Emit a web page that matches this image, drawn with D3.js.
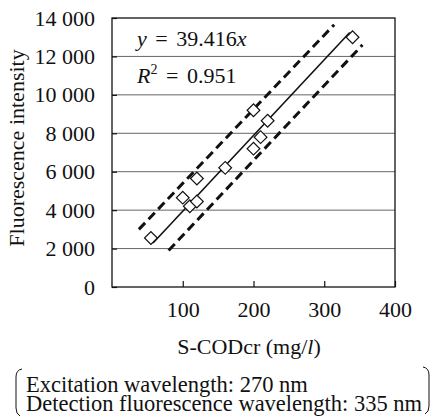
<!DOCTYPE html>
<html>
<head>
<meta charset="utf-8">
<script src="https://cdn.jsdelivr.net/npm/d3@7"></script>
<style>
  body { margin: 0; background: #fff; }
</style>
</head>
<body>
<svg id="chart" width="433" height="416"></svg>
<script>
// data
let codValues = [55, 100, 110, 120, 120, 160, 200, 210, 200, 220, 340];
let fluorValues = [2550, 4650, 4200, 4450, 5650, 6200, 7200, 7800, 9200, 8650, 13000];
let slope = 39.416;
let fitRange = [58, 336];
let upperBand = [[38, 3000], [314, 13650]];
let lowerBand = [[80, 1900], [354, 12600]];
let xTicks = [100, 200, 300, 400];
let yTicks = [0, 2000, 4000, 6000, 8000, 10000, 12000, 14000];

const FONT = 'Liberation Serif';
const FS = 22;

let svg = d3.select('#chart');
let margin = {top: 18, left: 112, right: 38, bottom: 129};
let width = 433 - margin.left - margin.right;
let height = 416 - margin.top - margin.bottom;

let xScale = d3.scaleLinear().domain([0, 400]).range([0, width]);
let yScale = d3.scaleLinear().domain([0, 14000]).range([height, 0]);

let g = svg.append('g').attr('transform', `translate(${margin.left},${margin.top})`);

// grid lines
g.selectAll('.grid')
    .data(yTicks.filter(d => d > 0 && d < 14000))
    .enter().append('line')
    .attr('x1', 0).attr('x2', width)
    .attr('y1', d => yScale(d)).attr('y2', d => yScale(d))
    .attr('stroke', '#666').attr('stroke-width', 1);

// frame
g.append('rect')
    .attr('width', width).attr('height', height)
    .attr('fill', 'none').attr('stroke', '#111').attr('stroke-width', 1.3);

let fmt = d => d3.format(',')(d).replace(',', ' ');

let yAxis = d3.axisLeft(yScale).tickValues(yTicks).tickSize(-5).tickPadding(17).tickFormat(fmt);
let xAxis = d3.axisBottom(xScale).tickValues(xTicks).tickSize(-6).tickPadding(14);

g.append('g').call(yAxis)
    .call(a => a.select('.domain').remove())
    .attr('font-family', FONT).attr('font-size', FS);
g.append('g').attr('transform', `translate(0,${height})`).call(xAxis)
    .call(a => a.select('.domain').remove())
    .attr('font-family', FONT).attr('font-size', FS);
g.selectAll('.tick text').attr('fill', '#111');
g.selectAll('.tick line').attr('stroke', '#111').attr('stroke-width', 1.2);

// bands
let line = d3.line().x(d => xScale(d[0])).y(d => yScale(d[1]));
[upperBand, lowerBand].forEach(b => {
    g.append('path').attr('d', line(b))
        .attr('fill', 'none').attr('stroke', '#111')
        .attr('stroke-width', 3).attr('stroke-dasharray', '9,5');
});

// fit line
g.append('path').attr('d', line(fitRange.map(x => [x, slope * x])))
    .attr('fill', 'none').attr('stroke', '#111').attr('stroke-width', 1.6);

// points
let sym = d3.symbol().type(d3.symbolSquare).size(81);
g.selectAll('.pt')
    .data(codValues.map((x, i) => [x, fluorValues[i]]))
    .enter().append('path')
    .attr('d', sym)
    .attr('transform', d => `translate(${xScale(d[0])},${yScale(d[1])}) rotate(45)`)
    .attr('fill', '#fff').attr('stroke', '#111').attr('stroke-width', 1.2);

// annotation
let eq = g.append('text').attr('x', 25).attr('y', 28)
    .attr('font-family', FONT).attr('font-size', FS).attr('fill', '#111');
eq.append('tspan').attr('font-style', 'italic').text('y');
eq.append('tspan').attr('dx', 3).text(' = ');
eq.append('tspan').attr('dx', 3).text('39.416');
eq.append('tspan').attr('font-style', 'italic').text('x');

let r2 = g.append('text').attr('x', 25).attr('y', 65)
    .attr('font-family', FONT).attr('font-size', FS).attr('fill', '#111');
r2.append('tspan').attr('font-style', 'italic').text('R');
r2.append('tspan').attr('dy', -9).attr('font-size', 14).text('2');
r2.append('tspan').attr('dy', 9).attr('dx', 3).text(' = ');
r2.append('tspan').attr('dx', 3).text('0.951');

// axis titles
let xt = svg.append('text').attr('x', 249).attr('y', 354)
    .attr('text-anchor', 'middle').attr('font-family', FONT).attr('font-size', FS).attr('fill', '#111');
xt.append('tspan').text('S-CODcr (mg/');
xt.append('tspan').attr('font-style', 'italic').text('l');
xt.append('tspan').text(')');

svg.append('text')
    .attr('transform', `translate(24,148) rotate(-90)`)
    .attr('text-anchor', 'middle').attr('font-family', FONT).attr('font-size', FS).attr('fill', '#111')
    .text('Fluorescence intensity');

// conditions note
svg.append('text').attr('x', 26).attr('y', 392).attr('font-family', FONT).attr('font-size', 22.5).attr('fill', '#111')
    .text('Excitation wavelength: 270 nm');
svg.append('text').attr('x', 26).attr('y', 411).attr('font-family', FONT).attr('font-size', 22.5).attr('fill', '#111')
    .text('Detection fluorescence wavelength: 335 nm');

svg.append('path').attr('d', 'M22,369 Q16,370 16,377 L16,408 Q16,414 20,416')
    .attr('fill', 'none').attr('stroke', '#111').attr('stroke-width', 1);
svg.append('path').attr('d', 'M423,367 Q429,368 429,375 L429,406 Q429,412 425,414')
    .attr('fill', 'none').attr('stroke', '#111').attr('stroke-width', 1);
</script>
</body>
</html>
